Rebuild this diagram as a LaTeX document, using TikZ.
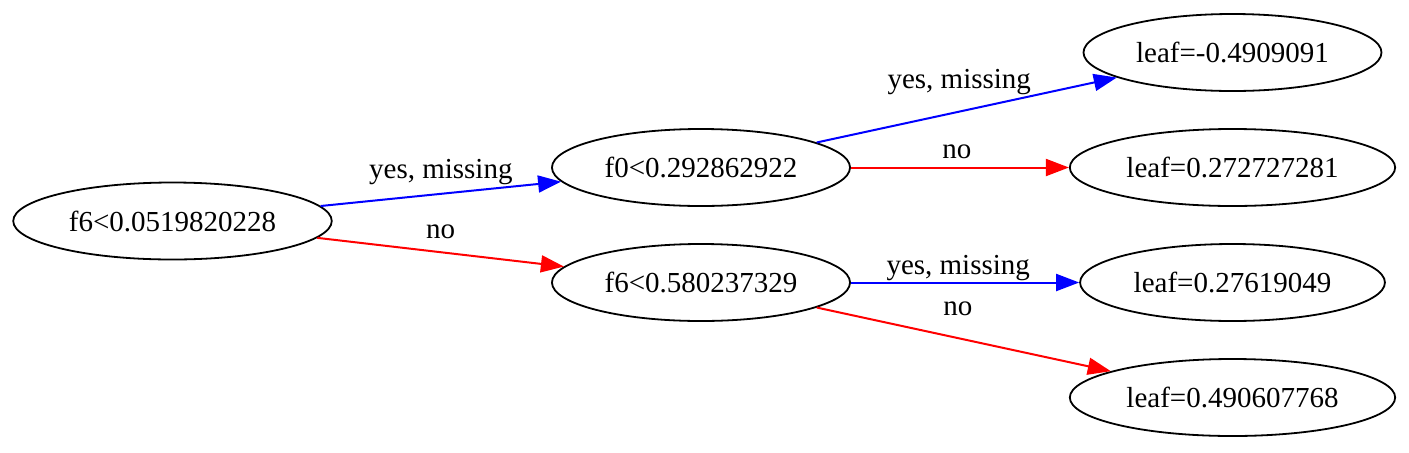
\documentclass[tikz,border=0pt]{standalone}
\usepackage{fontspec}
\setmainfont{Liberation Serif}
\usetikzlibrary{shapes.geometric,arrows.meta,positioning}

\begin{document}
\begin{tikzpicture}[
  split/.style  = {ellipse, draw, line width=0.9pt, inner xsep=4.5pt, inner ysep=0pt,
                   minimum height=38.5pt, font=\fontsize{14.5pt}{17pt}\selectfont},
  leaf/.style   = {split},
  yesarr/.style = {-{Triangle[length=11.5pt,width=8.5pt]}, line width=1pt, blue},
  noarr/.style  = {-{Triangle[length=11.5pt,width=8.5pt]}, line width=1pt, red},
  lbl/.style    = {anchor=base, text=black, inner sep=0pt,
                   font=\fontsize{14.5pt}{17pt}\selectfont},
  on grid,
]
  \useasboundingbox (-86.25pt,-115.5pt) rectangle (618.25pt,110.5pt);

  \node[split] (root) at (0,0) {f6<0.0519820228};
  \node[split, above right=26.75pt and 264.25pt of root] (f0) {f0<0.292862922};
  \node[split, below right=30.75pt and 264.25pt of root] (f6) {f6<0.580237329};

  \node[leaf, above right=57.5pt and 265.75pt of f0] (l1) {leaf=-0.4909091};
  \node[leaf, right=265.75pt of f0]                  (l2) {leaf=0.272727281};
  \node[leaf, right=265.75pt of f6]                  (l3) {leaf=0.27619049};
  \node[leaf, below right=57.5pt and 265.75pt of f6] (l4) {leaf=0.490607768};

  \draw[yesarr] (root) -- node[lbl, pos=0.5, yshift=7.5pt] {yes, missing} (f0);
  \draw[noarr]  (root) -- node[lbl, pos=0.5, yshift=7pt] {no} (f6);
  \draw[yesarr] (f0) -- node[lbl, pos=0.475, yshift=11.5pt] {yes, missing} (l1);
  \draw[noarr]  (f0) -- node[lbl, pos=0.486, yshift=4.5pt] {no} (l2);
  \draw[yesarr] (f6) -- node[lbl, pos=0.47, yshift=4pt] {yes, missing} (l3);
  \draw[noarr]  (f6) -- node[lbl, pos=0.48, yshift=11.5pt] {no} (l4);
\end{tikzpicture}
\end{document}
